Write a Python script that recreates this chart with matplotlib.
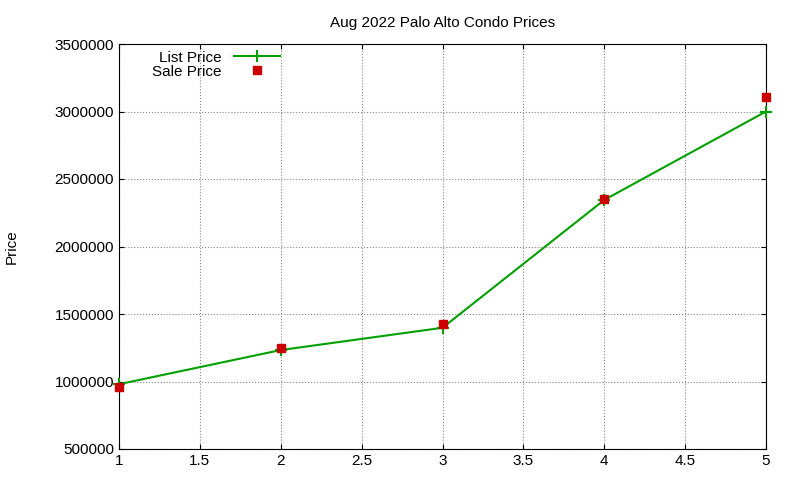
import matplotlib.pyplot as plt

x = [1, 2, 3, 4, 5]
list_price = [980000, 1233000, 1398000, 2345000, 3000000]
sale_price = [960000, 1248000, 1426000, 2350000, 3107000]

plt.rcParams['font.family'] = ['Liberation Sans', 'DejaVu Sans']
fig = plt.figure(figsize=(8, 4.8), dpi=100)
ax = fig.add_axes([119/800, 1-449/480, (766-119)/800, (449-44)/480])

ax.plot(x, list_price, color='#00a000', lw=1.5, marker='+', ms=8, mew=1.5,
        label='List Price', clip_on=False, zorder=3)
ax.plot(x, sale_price, ls='none', color='#cc0000', marker='s', ms=6,
        label='Sale Price', clip_on=False, zorder=4)

ax.set_xlim(1, 5)
ax.set_ylim(500000, 3500000)
ax.set_xticks([1, 1.5, 2, 2.5, 3, 3.5, 4, 4.5, 5])
ax.set_xticklabels(['1', '1.5', '2', '2.5', '3', '3.5', '4', '4.5', '5'])
ax.set_yticks(range(500000, 3500001, 500000))
ax.set_yticklabels([str(v) for v in range(500000, 3500001, 500000)])
ax.tick_params(direction='in', top=True, right=True, labelsize=11)
ax.grid(True, ls=':', color='#888888', lw=0.8)
ax.set_title('Aug 2022 Palo Alto Condo Prices', fontsize=11, pad=12)
ax.set_ylabel('Price', fontsize=11, labelpad=26)

ax.legend(loc='upper left', bbox_to_anchor=(0.035, 1.01), frameon=False, markerfirst=False,
          fontsize=11, handlelength=3.0, borderpad=0.2, labelspacing=0.0)

fig.savefig('out.png')
